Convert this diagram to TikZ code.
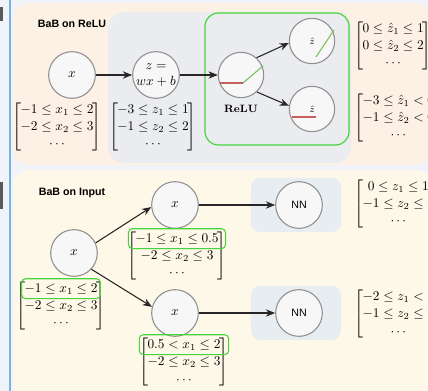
\documentclass[tikz,border=0pt]{standalone}
\usepackage{amsmath}
\usepackage{fontspec}
\newfontfamily\labelfont{Liberation Sans}
\usetikzlibrary{arrows.meta,positioning,matrix,fit,calc}
\definecolor{babStrip}{RGB}{240,243,250}
\definecolor{babBlue}{RGB}{120,180,225}
\definecolor{babPeach}{RGB}{253,240,228}
\definecolor{babCream}{RGB}{254,248,232}
\definecolor{babGrey}{RGB}{235,236,240}
\definecolor{babNN}{RGB}{231,237,241}
\definecolor{babGreen}{RGB}{70,212,60}
\definecolor{babCircle}{RGB}{143,143,143}
\definecolor{babFill}{RGB}{247,247,247}
\definecolor{babRed}{RGB}{200,95,95}
\definecolor{babLine}{RGB}{125,190,95}

\begin{document}
\begin{tikzpicture}[x=0.75pt, y=-0.75pt,
    nd/.style={circle, draw=babCircle, fill=babFill, line width=0.8pt,
               minimum size=35pt, inner sep=0pt},
    arr/.style={-{Stealth[length=7pt,width=5.5pt]}, black!85, line width=0.8pt},
    bnd/.style={matrix of math nodes, left delimiter={[}, right delimiter={]},
                inner sep=0pt, row sep=0.5pt,
                nodes={inner sep=1pt, text height=8pt, text depth=2.5pt}},
    every left delimiter/.style={xshift=3pt},
    every right delimiter/.style={xshift=-3pt},
    hl/.style={draw=babGreen, rounded corners=3pt, line width=0.8pt, inner sep=1pt},
    ttl/.style={font=\labelfont\bfseries\footnotesize},
    nnbox/.style={rectangle, rounded corners=7pt, fill=babNN,
                  minimum width=67.5pt, minimum height=40.5pt}
  ]
  \useasboundingbox (0,0) rectangle (428,391);
  \clip (0,0) rectangle (428,391);
  \fill[babStrip] (0,0) rectangle (428,391);
  \fill[black!65] (0,7) rectangle (3,21);
  \fill[black!65] (0,182) rectangle (3,209);
  \draw[babBlue, line width=1.2pt] (10,0) -- (10,391);

  \fill[babPeach, rounded corners=12pt] (13,3) rectangle (432,165);
  \fill[babGrey, rounded corners=12pt] (108,12) rectangle (351,163);
  \draw[babGreen, line width=0.9pt, rounded corners=10pt] (205,13) rectangle (349,145);
  \node[ttl] (t1) at (72,24) {BaB on ReLU};

  \node[nd] (xa)   at (72,75)  {$x$};
  \node[nd, align=center] (za) at (156,75) {$z=$\\$wx+b$};
  \node[nd, minimum size=34pt] (relu) at (241,75) {};
  \node[font=\footnotesize\bfseries] (relulbl) at (241,109) {ReLU};
  \node[nd, minimum size=34pt, font=\scriptsize] (zpos) at (312,41)  {$\hat{z}$};
  \node[nd, minimum size=34pt, font=\scriptsize] (zneg) at (312,109) {$\hat{z}$};
  \draw[babRed, line width=0.8pt] ($(relu)+(-21,8)$) -- ($(relu)+(2,8)$);
  \draw[babLine, line width=0.8pt] ($(relu)+(2,8)$) -- ($(relu)+(22,-9)$);
  \draw[babLine, line width=0.8pt] ($(zpos)+(4,16)$) -- ($(zpos)+(22,-11)$);
  \draw[babRed, line width=0.8pt] ($(zneg)+(-20,8)$) -- ($(zneg)+(4,8)$);

  \draw[arr] (xa) -- (za);
  \draw[arr] (za) -- (relu);
  \draw[arr] (relu.48) -- (zpos.185);
  \draw[arr] (relu.-47) -- (zneg.172);

  \matrix (mxa) [bnd] at (57,127) {
    -1 \le x_1 \le 2 \\
    -2 \le x_2 \le 3 \\
    \cdots \\
  };
  \matrix (mza) [bnd] at (153,127) {
    -3 \le z_1 \le 1 \\
    -1 \le z_2 \le 2 \\
    \cdots \\
  };
  \matrix (mzp) [bnd, anchor=west] at (361,46) {
    0 \le \hat{z}_1 \le 1 \\
    0 \le \hat{z}_2 \le 2 \\
    \cdots \\
  };
  \matrix (mzn) [bnd, anchor=west] at (361,118) {
    -3 \le \hat{z}_1 < 0 \\
    -1 \le \hat{z}_2 < 0 \\
    \cdots \\
  };

  \fill[babCream, rounded corners=12pt] (13,170) rectangle (432,400);
  \node[ttl] (t2) at (72,193) {BaB on Input};

  \node[nnbox] (nnlbox) at (296,205) {};
  \node[nnbox] (nnrbox) at (296,313) {};
  \node[nd] (xb)  at (74,253)  {$x$};
  \node[nd] (xl)  at (175,205) {$x$};
  \node[nd] (xr)  at (175,313) {$x$};
  \node[nd, font=\labelfont\footnotesize] (nnl) at (299,205) {NN};
  \node[nd, font=\labelfont\footnotesize] (nnr) at (299,313) {NN};

  \draw[arr] (xb.25) -- (xl.185);
  \draw[arr] (xb.-43) -- (xr.165);
  \draw[arr] (xl) -- (nnl);
  \draw[arr] (xr) -- (nnr);

  \matrix (mxb) [bnd] at (61,306) {
    -1 \le x_1 \le 2 \\
    -2 \le x_2 \le 3 \\
    \cdots \\
  };
  \matrix (mxl) [bnd] at (177,256) {
    -1 \le x_1 \le 0.5 \\
    -2 \le x_2 \le 3 \\
    \cdots \\
  };
  \matrix (mxr) [bnd] at (184,362) {
    0.5 < x_1 \le 2 \\
    -2 \le x_2 \le 3 \\
    \cdots \\
  };
  \node[hl, fit=(mxb-1-1)] (hxb) {};
  \node[hl, fit=(mxl-1-1), inner xsep=4pt] (hxl) {};
  \node[hl, fit=(mxr-1-1), inner xsep=5pt] (hxr) {};

  \matrix (mnl) [bnd, anchor=west] at (361,204) {
    0 \le z_1 \le 1 \\
    -1 \le z_2 \le 2 \\
    \cdots \\
  };
  \matrix (mnr) [bnd, anchor=west] at (361,314) {
    -2 \le z_1 < 1 \\
    -1 \le z_2 \le 2 \\
    \cdots \\
  };
\end{tikzpicture}
\end{document}
